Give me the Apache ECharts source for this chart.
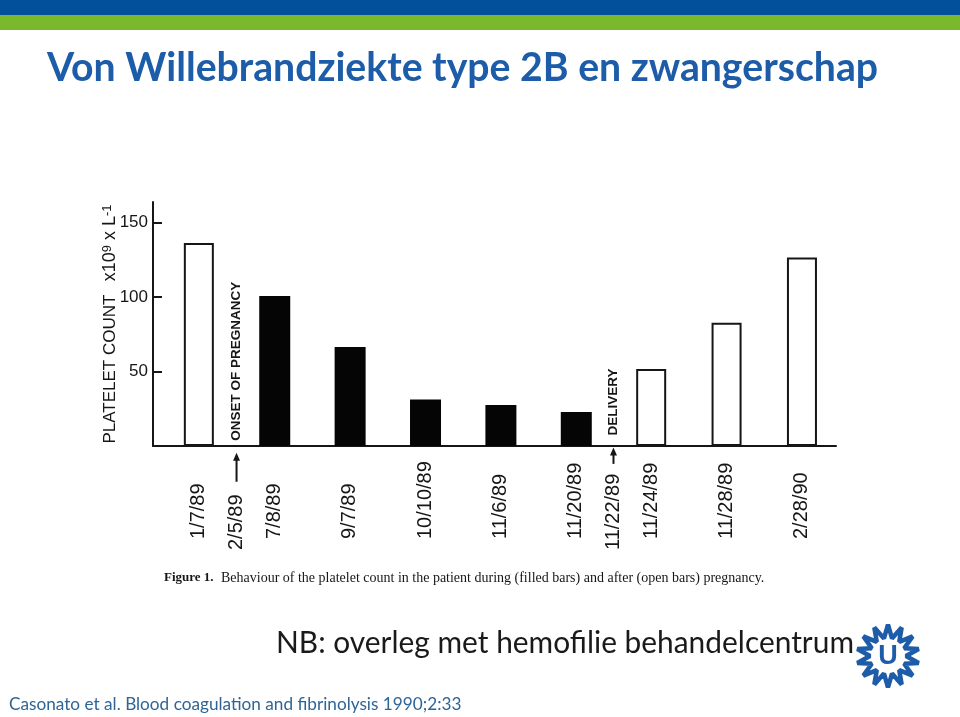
<!DOCTYPE html>
<html><head><meta charset="utf-8">
<style>html,body{margin:0;padding:0;background:#fff}#c{width:960px;height:717px}</style>
<script src="https://cdn.jsdelivr.net/npm/echarts@6/dist/echarts.min.js"></script>
</head><body><div id="c"></div>
<script>
var slideTitle = 'Von Willebrandziekte type 2B en zwangerschap';
var noteText = 'NB: overleg met hemofilie behandelcentrum';
var sourceText = 'Casonato et al. Blood coagulation and fibrinolysis 1990;2:33';
var captionHead = 'Figure 1.';
var captionBody = 'Behaviour of the platelet count in the patient during (filled bars) and after (open bars) pregnancy.';
var yAxisTicks = [50, 100, 150];
var categories = ['1/7/89','','7/8/89','','9/7/89','','10/10/89','','11/6/89','','11/20/89','','11/24/89','','11/28/89','','2/28/90'];
var lowCategories = ['','2/5/89','','','','','','','','','','11/22/89','','','','',''];
var filledBars = [null,null,100.7,null,66.4,null,31.2,null,27.5,null,22.8,null,null,null,null,null,null];
var openBars = [136.2,null,null,null,null,null,null,null,null,null,null,null,51.7,null,82.8,null,126.6];
var annotations = [[1,3.5,'ONSET OF PREGNANCY'],[11,7,'DELIVERY']];
var arrows = [[1,-4.5,-24],[11,-1,-12]];

var INK = '#161616';
var chart = echarts.init(document.getElementById('c'), null, {renderer:'canvas'});

// Logo geometry (decoration)
var cx = 888, cy = 656, pts = [], N = 14;
for (var i = 0; i < N*2; i++) {
  var a = -Math.PI/2 + i*Math.PI/N, r = i%2 ? 18 : 31.5;
  pts.push([cx + r*Math.cos(a), cy + r*Math.sin(a)]);
}

var gridTop = 202, gridH = 244, yMax = 163.8;
var barGrid = {left:180, width:640.8, top:gridTop, height:gridH};
var axisGrid = {left:153, width:683, top:gridTop, height:gridH};

chart.setOption({
  animation:false,
  backgroundColor:'#fff',
  grid:[axisGrid, barGrid],
  xAxis:[
    {gridIndex:0,type:'value',min:0,max:1,axisLine:{show:true,onZero:false,lineStyle:{color:INK,width:2}},axisTick:{show:false},axisLabel:{show:false},splitLine:{show:false}},
    {gridIndex:1,type:'category',data:categories,axisLine:{show:false},axisTick:{show:false},splitLine:{show:false},
     axisLabel:{interval:0,rotate:90,align:'left',verticalAlign:'middle',margin:93,fontFamily:'Liberation Sans',fontSize:20,color:INK}},
    {gridIndex:1,type:'category',position:'bottom',data:lowCategories,axisLine:{show:false},axisTick:{show:false},splitLine:{show:false},
     axisLabel:{interval:0,rotate:90,align:'left',verticalAlign:'middle',margin:104,fontFamily:'Liberation Sans',fontSize:20,color:INK}}
  ],
  yAxis:[
    {gridIndex:0,type:'value',min:0,max:yMax,
     axisLine:{show:true,onZero:false,lineStyle:{color:INK,width:2}},
     axisTick:{show:true,inside:true,length:9,customValues:yAxisTicks,lineStyle:{color:INK,width:2}},
     axisLabel:{show:true,customValues:yAxisTicks,margin:5,fontFamily:'Liberation Sans',fontSize:17,color:INK},
     splitLine:{show:false},
     name:'{a|PLATELET COUNT}    {b|x10}{s|9}{b| x L}{s|-1}',
     nameLocation:'middle',nameRotate:90,nameGap:33,nameMoveOverlap:false,
     nameTextStyle:{color:INK,
       rich:{a:{fontFamily:'Liberation Sans',fontSize:17,color:INK},b:{fontFamily:'Liberation Sans',fontSize:18,color:INK},s:{fontFamily:'Liberation Sans',fontSize:13,color:INK,verticalAlign:'top',padding:[0,0,6,0]}}}},
    {gridIndex:1,type:'value',min:0,max:yMax,show:false}
  ],
  series:[
    {type:'bar',name:'During pregnancy',xAxisIndex:1,yAxisIndex:1,data:filledBars,barWidth:31,barGap:'-100%',itemStyle:{color:'#050505'}},
    {type:'bar',name:'After pregnancy',xAxisIndex:1,yAxisIndex:1,data:openBars,barWidth:30,barGap:'-100%',itemStyle:{color:'#fff',borderColor:INK,borderWidth:2}},
    {type:'custom',name:'Annotations',xAxisIndex:1,yAxisIndex:1,data:annotations.map(function(d){return [d[0],d[1]];}),clip:false,silent:true,
     encode:{x:0,y:1},
     renderItem:function(p,api){
       var pos = api.coord([api.value(0),api.value(1)]);
       return {type:'text',x:pos[0],y:pos[1],rotation:Math.PI/2,
         style:{text:annotations[p.dataIndex][2],fontFamily:'Liberation Sans',fontWeight:'bold',fontSize:13.5,fill:INK,align:'left',verticalAlign:'middle'}};
     }},
    {type:'custom',name:'Arrows',xAxisIndex:1,yAxisIndex:1,data:arrows,clip:false,silent:true,
     encode:{x:0,y:[1,2]},
     renderItem:function(p,api){
       var t = api.coord([api.value(0),api.value(1)]), b = api.coord([api.value(0),api.value(2)]);
       return {type:'group',children:[
         {type:'line',shape:{x1:t[0],y1:t[1]+6,x2:b[0],y2:b[1]},style:{stroke:INK,lineWidth:2}},
         {type:'polygon',shape:{points:[[t[0],t[1]],[t[0]-3.5,t[1]+8],[t[0]+3.5,t[1]+8]]},style:{fill:INK}}
       ]};
     }}
  ],
  graphic:[
    {type:'rect',shape:{x:0,y:0,width:960,height:15},style:{fill:'#024f9c'},z:10},
    {type:'rect',shape:{x:0,y:15,width:960,height:15},style:{fill:'#7ab82e'},z:10},
    {type:'text',x:47,y:68,style:{text:slideTitle,fontFamily:'Lato',fontWeight:'bold',fontSize:39.2,fill:'#1c5ca8',verticalAlign:'middle'},z:10},
    {type:'text',x:164,y:578,style:{text:captionHead,fontFamily:'Liberation Serif',fontWeight:'bold',fontSize:13,fill:INK,verticalAlign:'middle'},z:10},
    {type:'text',x:221,y:578,style:{text:captionBody,fontFamily:'Liberation Serif',fontSize:14,fill:INK,verticalAlign:'middle'},z:10},
    {type:'text',x:276,y:643,style:{text:noteText,fontFamily:'Lato',fontSize:29.9,fill:'#1a1a1a',verticalAlign:'middle'},z:10},
    {type:'text',x:9,y:704,style:{text:sourceText,fontFamily:'Lato',fontSize:17.2,fill:'#2e6596',verticalAlign:'middle'},z:10},
    {type:'polygon',shape:{points:pts},style:{fill:'none',stroke:'#1c5ca8',lineWidth:4.5,lineJoin:'bevel'},z:10},
    {type:'text',x:cx,y:cy+1,style:{text:'U',fontFamily:'Liberation Sans',fontWeight:'bold',fontSize:27,fill:'#1c5ca8',align:'center',verticalAlign:'middle'},z:10}
  ]
});
</script></body></html>
